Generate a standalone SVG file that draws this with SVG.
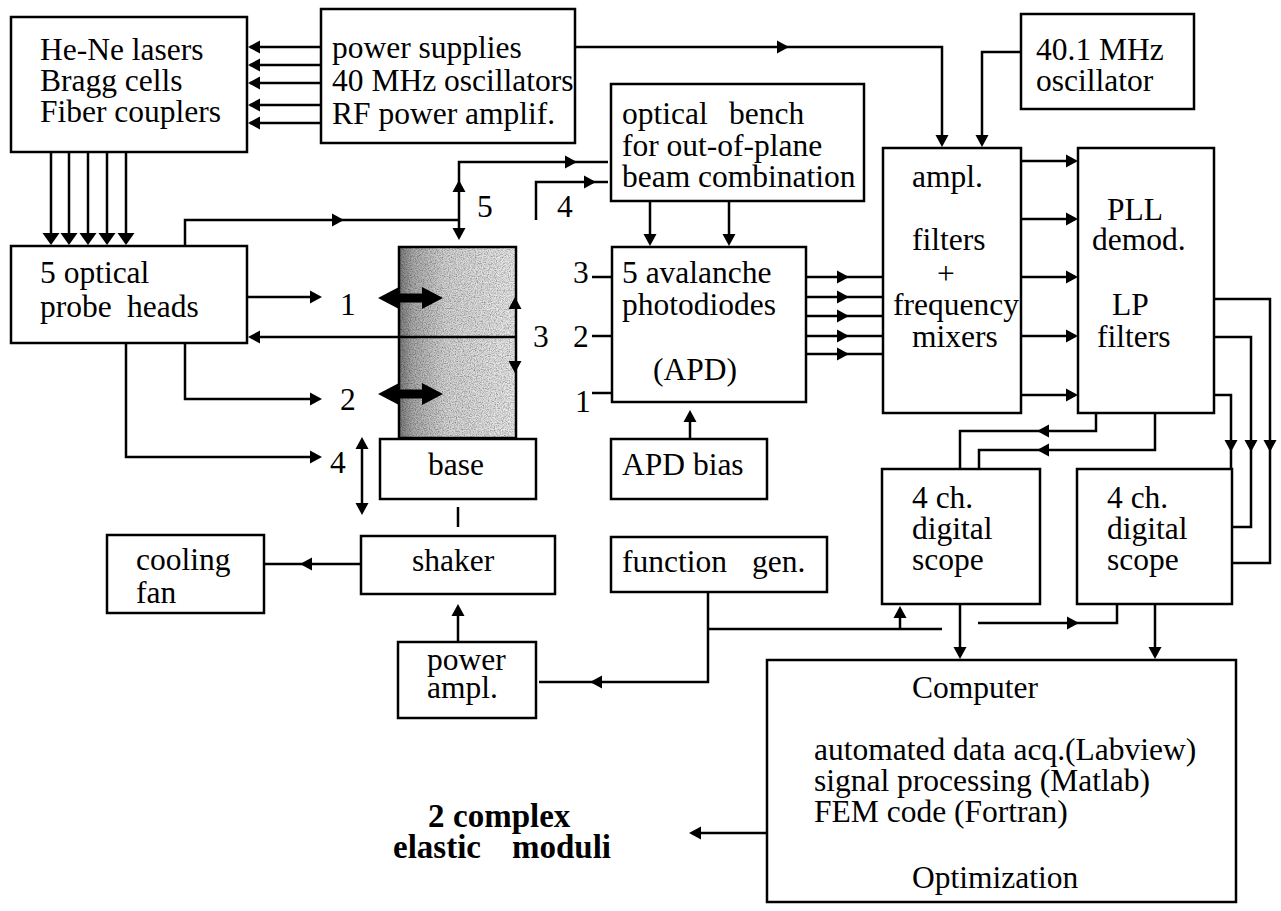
<svg xmlns="http://www.w3.org/2000/svg" width="1281" height="911" viewBox="0 0 1281 911">
<style>
.box{fill:#fff;stroke:#000;stroke-width:2.5}
.ln{fill:none;stroke:#000;stroke-width:2.5}
text{font-family:"Liberation Serif","Times New Roman",serif;font-size:31.5px;fill:#000}
.bold{font-weight:bold;font-size:33px}
</style>
<defs>
<path id="ah" d="M0,0 L-12,-6.5 L-12,6.5 Z" fill="#000"/>
<path id="ahw" d="M0,0 L-12,-8.5 L-12,8.5 Z" fill="#000"/>
<linearGradient id="spec" x1="0" y1="0" x2="1" y2="0">
<stop offset="0" stop-color="#7c7c7c"/>
<stop offset="0.12" stop-color="#acacac"/>
<stop offset="0.4" stop-color="#d6d6d6"/>
<stop offset="1" stop-color="#ebebeb"/>
</linearGradient>
<filter id="grain" x="0" y="0" width="100%" height="100%">
<feTurbulence type="fractalNoise" baseFrequency="0.85" numOctaves="2" seed="5" result="t"/>
<feColorMatrix in="t" type="matrix" values="0 0 0 0 0  0 0 0 0 0  0 0 0 0 0  1.3 0 0 0 -0.45" result="dots"/>
<feComposite in="dots" in2="SourceGraphic" operator="in" result="d2"/>
<feMerge><feMergeNode in="SourceGraphic"/><feMergeNode in="d2"/></feMerge>
</filter>
</defs>
<rect width="1281" height="911" fill="#fff"/>

<g id="lasers">
<rect class="box" x="11" y="17" width="236" height="135"/>
<text x="40" y="60">He-Ne lasers</text>
<text x="40" y="91">Bragg cells</text>
<text x="40" y="122">Fiber couplers</text>
</g>
<g id="power-supplies">
<rect class="box" x="321" y="9" width="254" height="134"/>
<text x="332" y="58">power supplies</text>
<text x="332" y="91">40 MHz oscillators</text>
<text x="332" y="124">RF power amplif.</text>
</g>
<g id="osc401">
<rect class="box" x="1021" y="14" width="173" height="95"/>
<text x="1036" y="60">40.1 MHz</text>
<text x="1036" y="91">oscillator</text>
</g>
<g id="bench">
<rect class="box" x="611" y="84" width="253" height="117"/>
<text x="622" y="124"><tspan x="622">optical</tspan><tspan x="729">bench</tspan></text>
<text x="622" y="156">for out-of-plane</text>
<text x="622" y="187">beam combination</text>
</g>
<g id="probes">
<rect class="box" x="11" y="246" width="236" height="97"/>
<text x="40" y="283">5 optical</text>
<text x="40" y="317"><tspan x="40">probe</tspan><tspan x="127">heads</tspan></text>
</g>
<g id="specimen">
<rect x="399" y="247" width="117" height="191" fill="url(#spec)" filter="url(#grain)"/>
<rect x="399" y="247" width="117" height="191" fill="none" stroke="#000" stroke-width="2.5"/>
</g>
<g id="base">
<rect class="box" x="380" y="439" width="156" height="60"/>
<text x="428" y="475">base</text>
</g>
<g id="shaker">
<rect class="box" x="361" y="536" width="194" height="58"/>
<text x="412" y="571">shaker</text>
</g>
<g id="cooling-fan">
<rect class="box" x="107" y="535" width="157" height="78"/>
<text x="136" y="570">cooling</text>
<text x="136" y="603">fan</text>
</g>
<g id="power-ampl">
<rect class="box" x="398" y="642" width="138" height="76"/>
<text x="427" y="670">power</text>
<text x="427" y="698">ampl.</text>
</g>
<g id="function-gen">
<rect class="box" x="611" y="537" width="216" height="55"/>
<text x="622" y="572"><tspan x="622">function</tspan><tspan x="752">gen.</tspan></text>
</g>
<g id="apd">
<rect class="box" x="612" y="247" width="194" height="155"/>
<text x="622" y="283">5 avalanche</text>
<text x="622" y="315">photodiodes</text>
<text x="653" y="380">(APD)</text>
</g>
<g id="apd-bias">
<rect class="box" x="611" y="439" width="156" height="60"/>
<text x="622" y="475">APD bias</text>
</g>
<g id="mixers">
<rect class="box" x="883" y="148" width="138" height="265"/>
<text x="912" y="187">ampl.</text>
<text x="912" y="250">filters</text>
<text x="937" y="284">+</text>
<text x="893" y="315">frequency</text>
<text x="912" y="347">mixers</text>
</g>
<g id="pll">
<rect class="box" x="1078" y="148" width="136" height="265"/>
<text x="1107" y="220">PLL</text>
<text x="1092" y="250">demod.</text>
<text x="1112" y="315">LP</text>
<text x="1097" y="347">filters</text>
</g>
<g id="scope1">
<rect class="box" x="882" y="469" width="158" height="135"/>
<text x="912" y="508">4 ch.</text>
<text x="912" y="539">digital</text>
<text x="912" y="570">scope</text>
</g>
<g id="scope2">
<rect class="box" x="1077" y="469" width="155" height="135"/>
<text x="1107" y="508">4 ch.</text>
<text x="1107" y="539">digital</text>
<text x="1107" y="570">scope</text>
</g>
<g id="computer">
<rect class="box" x="767" y="660" width="469" height="242"/>
<text x="912" y="698">Computer</text>
<text x="814" y="760">automated data acq.(Labview)</text>
<text x="814" y="791">signal processing (Matlab)</text>
<text x="814" y="822">FEM code (Fortran)</text>
<text x="912" y="888">Optimization</text>
</g>
<g id="moduli">
<text class="bold" y="827"><tspan x="428">2</tspan><tspan x="453">complex</tspan></text>
<text class="bold" y="858"><tspan x="393">elastic</tspan><tspan x="512">moduli</tspan></text>
</g>

<g id="connectors">
<path class="ln" d="M321,47 H250 M321,65 H250 M321,83 H250 M321,105 H250 M321,123 H250"/>
<use href="#ah" transform="translate(248,47) rotate(180)"/>
<use href="#ah" transform="translate(248,65) rotate(180)"/>
<use href="#ah" transform="translate(248,83) rotate(180)"/>
<use href="#ah" transform="translate(248,105) rotate(180)"/>
<use href="#ah" transform="translate(248,123) rotate(180)"/>

<path class="ln" d="M51,152 V240 M69,152 V240 M88,152 V240 M107,152 V240 M126,152 V240"/>
<use href="#ahw" transform="translate(51,245) rotate(90)"/>
<use href="#ahw" transform="translate(69,245) rotate(90)"/>
<use href="#ahw" transform="translate(88,245) rotate(90)"/>
<use href="#ahw" transform="translate(107,245) rotate(90)"/>
<use href="#ahw" transform="translate(126,245) rotate(90)"/>

<path class="ln" d="M575,47 H942 V144"/>
<use href="#ah" transform="translate(789,47)"/>
<use href="#ah" transform="translate(942,147) rotate(90)"/>
<path class="ln" d="M1021,52 H982 V144"/>
<use href="#ah" transform="translate(982,147) rotate(90)"/>

<path class="ln" d="M185,246 V220 H459"/>
<use href="#ah" transform="translate(344,220)"/>
<path class="ln" d="M459,236 V162 H608"/>
<use href="#ah" transform="translate(459,180) rotate(-90)"/>
<use href="#ah" transform="translate(459,240) rotate(90)"/>
<use href="#ah" transform="translate(577,162)"/>
<path class="ln" d="M536,220 V182 H608"/>
<use href="#ah" transform="translate(596,182)"/>
<text x="477" y="217">5</text>
<text x="557" y="217">4</text>

<path class="ln" d="M650,201 V242 M729,201 V242"/>
<use href="#ah" transform="translate(650,246) rotate(90)"/>
<use href="#ah" transform="translate(729,246) rotate(90)"/>

<path class="ln" d="M806,277 H883 M806,297 H883 M806,316 H883 M806,336 H883 M806,354 H883"/>
<use href="#ah" transform="translate(849,277)"/>
<use href="#ah" transform="translate(849,297)"/>
<use href="#ah" transform="translate(849,316)"/>
<use href="#ah" transform="translate(849,336)"/>
<use href="#ah" transform="translate(849,354)"/>

<path class="ln" d="M592,277 H612 M592,336 H612 M592,393 H612"/>
<text x="573" y="283">3</text>
<text x="573" y="347">2</text>
<text x="575" y="412">1</text>

<path class="ln" d="M690,439 V414"/>
<use href="#ah" transform="translate(690,410) rotate(-90)"/>

<path class="ln" d="M1021,161 H1075 M1021,219 H1075 M1021,277 H1075 M1021,336 H1075 M1021,395 H1075"/>
<use href="#ah" transform="translate(1078,161)"/>
<use href="#ah" transform="translate(1078,219)"/>
<use href="#ah" transform="translate(1078,277)"/>
<use href="#ah" transform="translate(1078,336)"/>
<use href="#ah" transform="translate(1078,395)"/>

<path class="ln" d="M1214,299 H1270 V563 H1232"/>
<path class="ln" d="M1214,337 H1251 V527 H1232"/>
<path class="ln" d="M1214,395 H1231 V469"/>
<use href="#ah" transform="translate(1231,452) rotate(90)"/>
<use href="#ah" transform="translate(1251,452) rotate(90)"/>
<use href="#ah" transform="translate(1270,452) rotate(90)"/>

<path class="ln" d="M1096,413 V431 H960 V469"/>
<use href="#ah" transform="translate(1037,431) rotate(180)"/>
<path class="ln" d="M1155,413 V450 H979 V469"/>
<use href="#ah" transform="translate(1037,450) rotate(180)"/>

<path class="ln" d="M960,604 V656 M1155,604 V656"/>
<use href="#ah" transform="translate(960,659) rotate(90)"/>
<use href="#ah" transform="translate(1155,659) rotate(90)"/>

<path class="ln" d="M708,592 V682 H539"/>
<use href="#ah" transform="translate(590,682) rotate(180)"/>
<path class="ln" d="M708,629 H942"/>
<path class="ln" d="M900,629 V609"/>
<use href="#ah" transform="translate(900,606) rotate(-90)"/>
<path class="ln" d="M978,623 H1117 V604"/>
<use href="#ah" transform="translate(1079,623)"/>

<path class="ln" d="M458,642 V608"/>
<use href="#ah" transform="translate(458,604) rotate(-90)"/>
<path class="ln" d="M361,564 H264"/>
<use href="#ah" transform="translate(300,564) rotate(180)"/>
<path class="ln" d="M458,507 V527"/>

<path class="ln" d="M247,297 H318"/>
<use href="#ah" transform="translate(322,297)"/>
<path class="ln" d="M185,343 V399 H318"/>
<use href="#ah" transform="translate(322,399)"/>
<path class="ln" d="M126,343 V457 H318"/>
<use href="#ah" transform="translate(322,457)"/>
<path class="ln" d="M516,337 H251"/>
<use href="#ah" transform="translate(248,337) rotate(180)"/>
<use href="#ah" transform="translate(515,297) rotate(-90)"/>
<use href="#ah" transform="translate(515,373) rotate(90)"/>
<text x="340" y="315">1</text>
<text x="340" y="410">2</text>
<text x="330" y="473">4</text>
<text x="533" y="347">3</text>

<path class="ln" d="M362,441 V511"/>
<use href="#ah" transform="translate(362,437) rotate(-90)"/>
<use href="#ah" transform="translate(362,515) rotate(90)"/>

<path d="M378,298 L399,287 L399,293.5 L422,293.5 L422,287 L443,298 L422,309 L422,302.5 L399,302.5 L399,309 Z" fill="#000"/>
<path d="M378,394 L399,383 L399,389.5 L422,389.5 L422,383 L443,394 L422,405 L422,398.5 L399,398.5 L399,405 Z" fill="#000"/>

<path class="ln" d="M767,833 H693"/>
<use href="#ah" transform="translate(689,833) rotate(180)"/>
</g>
</svg>
